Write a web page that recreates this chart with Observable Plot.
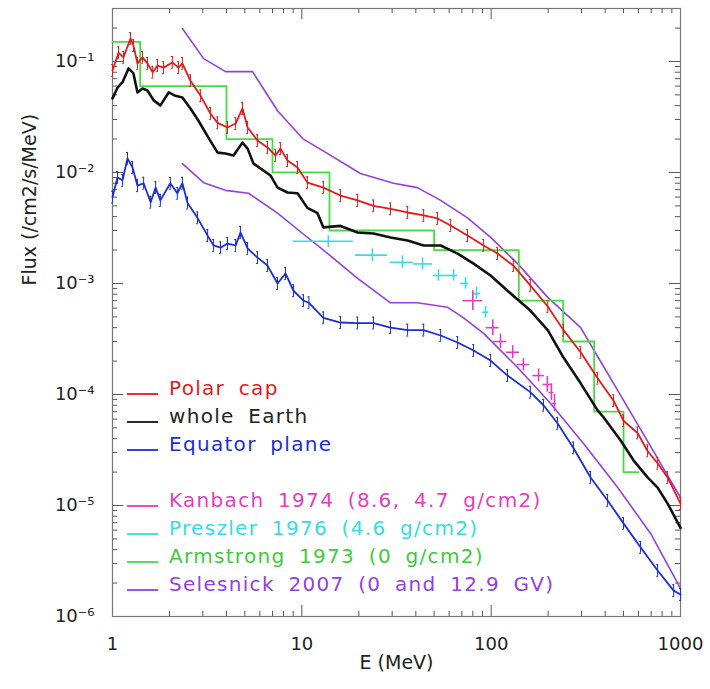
<!DOCTYPE html>
<html><head><meta charset="utf-8">
<script src="https://cdn.jsdelivr.net/npm/d3@7"></script>
<script src="https://cdn.jsdelivr.net/npm/@observablehq/plot@0.6"></script>
<style>body{margin:0;background:#fff} svg{font-family:"DejaVu Sans",sans-serif}</style>
</head><body><div id="chart"></div><script>
// ---- data (E in MeV, flux in /cm2/s/MeV) ----
const polarE = [1.0,1.076,1.143,1.245,1.291,1.355,1.44,1.53,1.63,1.73,1.86,2.07,2.23,2.34,2.58,2.92,3.29,3.59,4.05,4.47,4.86,5.17,5.83,6.59,7.26,7.71,8.40,9.49,10.7,13.0,16.0,19.7,23.9,29.4,36.2,44.0,52.1,61.1,75.0,91.2,108,131,161,199,241,297,365,443,500,593,670,757,855,1000];
const polarF = [0.083,0.120,0.109,0.161,0.139,0.096,0.109,0.096,0.080,0.092,0.088,0.098,0.088,0.096,0.067,0.049,0.034,0.028,0.0254,0.0276,0.0377,0.0254,0.0194,0.0168,0.0142,0.0164,0.0128,0.0111,0.0081,0.0073,0.0062,0.0056,0.0050,0.0047,0.00436,0.0041,0.00385,0.00333,0.0027,0.0022,0.00186,0.00145,9.6e-4,6.2e-4,3.8e-4,2.4e-4,1.4e-4,8.8e-5,5.8e-5,4.5e-5,3.1e-5,2.4e-5,1.79e-5,1.04e-5];

const earthE = [1.0,1.063,1.13,1.215,1.29,1.355,1.44,1.53,1.65,1.79,1.98,2.15,2.34,2.58,2.84,3.21,3.59,3.95,4.36,4.86,5.17,5.56,6.28,6.83,7.44,8.40,9.49,10.7,12.1,13.0,16.0,19.7,23.9,29.4,36.2,44.0,54.1,66.5,80.7,99.3,122,161,199,241,297,365,393,483,566,670,757,855,1000];
const earthF = [0.0465,0.058,0.065,0.0865,0.078,0.0526,0.057,0.0548,0.0446,0.0402,0.0526,0.049,0.0474,0.0377,0.0294,0.0206,0.0151,0.0148,0.0142,0.0186,0.0164,0.0120,0.0104,0.0094,0.0073,0.0066,0.0065,0.0048,0.0043,0.0032,0.0033,0.00288,0.00282,0.0026,0.00244,0.0022,0.0022,0.00186,0.00151,0.00118,8.6e-4,5.7e-4,3.8e-4,2.15e-4,1.26e-4,7.2e-5,6.2e-5,3.85e-5,2.54e-5,1.79e-5,1.45e-5,1.04e-5,6.3e-6];

const equatorE = [1.0,1.063,1.13,1.20,1.276,1.355,1.46,1.59,1.69,1.79,2.02,2.20,2.34,2.49,2.81,3.18,3.42,3.72,4.05,4.47,4.74,5.17,5.83,6.59,7.44,8.20,9.04,10.2,10.9,13.0,16.0,19.7,23.9,29.4,36.2,44.0,54.1,66.5,80.7,99.3,122,161,189,224,272,335,412,500,615,757,920,1000];
const equatorF = [0.0060,0.0090,0.0085,0.0134,0.0111,0.0076,0.0080,0.0054,0.0073,0.0056,0.0080,0.0065,0.0080,0.0053,0.0039,0.0027,0.0022,0.0021,0.00229,0.0022,0.00288,0.00207,0.00171,0.00145,0.0010,0.00123,8.6e-4,7.0e-4,6.7e-4,4.9e-4,4.45e-4,4.4e-4,4.4e-4,4.0e-4,3.8e-4,3.8e-4,3.4e-4,2.94e-4,2.49e-4,2.02e-4,1.48e-4,1.05e-4,8.0e-5,5.5e-5,3.3e-5,1.79e-5,1.11e-5,6.9e-6,4.2e-6,2.6e-6,1.71e-6,1.58e-6];

const kanbachE   = [80, 102, 112, 130, 148, 178, 198, 208, 216];
const kanbachELo = [71, 94, 103, 120, 137, 166, 188, 202, 211];
const kanbachEHi = [90, 110, 121, 141, 160, 191, 208, 214, 221];
const kanbachF   = [7.0e-4, 4.0e-4, 3.0e-4, 2.4e-4, 1.86e-4, 1.48e-4, 1.23e-4, 1.04e-4, 8.3e-5];
const kanbachFLo = [5.7e-4, 3.4e-4, 2.6e-4, 2.1e-4, 1.63e-4, 1.3e-4, 1.05e-4, 8.8e-5, 7.0e-5];
const kanbachFHi = [8.6e-4, 4.7e-4, 3.5e-4, 2.75e-4, 2.1e-4, 1.7e-4, 1.45e-4, 1.25e-4, 1.0e-4];

const preszlerE   = [13.8, 23.6, 34, 43.4, 52.7, 63.3, 73.2, 83.7, 93.4];
const preszlerELo = [9.0, 19.2, 29.4, 38.9, 49.6, 58.8, 69, 80, 90];
const preszlerEHi = [18.7, 28.3, 38.8, 49.0, 58.8, 66.5, 76, 88, 97];
const preszlerF   = [2.4e-3, 1.8e-3, 1.55e-3, 1.5e-3, 1.18e-3, 1.18e-3, 1.0e-3, 8.1e-4, 5.5e-4];
const preszlerFLo = [2.1e-3, 1.58e-3, 1.37e-3, 1.33e-3, 1.05e-3, 1.05e-3, 8.9e-4, 7.2e-4, 4.9e-4];
const preszlerFHi = [2.7e-3, 2.05e-3, 1.77e-3, 1.7e-3, 1.33e-3, 1.33e-3, 1.13e-3, 9.2e-4, 6.2e-4];

const armstrongE = [1, 1.4, 4, 7, 14, 50, 140, 240, 350, 500, 600];
const armstrongF = [0.15, 0.06, 0.02, 0.01, 0.003, 0.002, 7e-4, 3e-4, 7e-5, 2e-5, 2e-5];

const selesnick0E = [2.34,3.03,3.95,5.49,7.44,10.1,13.7,20.4,30.5,40.8,54.1,75.0,99.3,138,199,297,365,443,545,670,814,1000];
const selesnick0F = [0.198,0.106,0.081,0.081,0.036,0.0202,0.0148,0.0098,0.0080,0.0073,0.0056,0.0039,0.0026,0.00151,7.5e-4,4.0e-4,2.2e-4,1.26e-4,6.9e-5,3.8e-5,2.15e-5,1.18e-5];
const selesnick13E = [2.34,3.03,3.95,5.23,7.44,10.1,13.7,19.7,29.4,40.8,58.9,71.5,91.2,138,206,308,466,695,1000];
const selesnick13F = [0.0120,0.0081,0.0069,0.0065,0.0043,0.00282,0.00186,0.00111,6.7e-4,6.7e-4,6.1e-4,4.9e-4,3.55e-4,1.75e-4,8.3e-5,3.6e-5,1.45e-5,5.6e-6,1.79e-6];

const xTickLabels = [1, 10, 100, 1000];
const yTickValues = [1e-6, 1e-5, 1e-4, 1e-3, 1e-2, 1e-1];
const yTickLabels = ["10⁻⁶", "10⁻⁵", "10⁻⁴", "10⁻³", "10⁻²", "10⁻¹"];

const legendLabels = ["Polar cap", "whole Earth", "Equator plane", "Kanbach 1974 (8.6, 4.7 g/cm2)", "Preszler 1976 (4.6 g/cm2)", "Armstrong 1973 (0 g/cm2)", "Selesnick 2007 (0 and 12.9 GV)"];
const legendRows = [0, 1, 2, 4, 5, 6, 7];

// ---- styles ----
const C = {red:"#e41a1a", black:"#111", blue:"#1c2ed6", magenta:"#e53dbd", cyan:"#33dde6", green:"#44dd44", purple:"#9440e0"};
const legendColors = [C.red, C.black, C.blue, C.magenta, C.cyan, C.green, C.purple];
const legendTextColors = [C.red, "#222", C.blue, C.magenta, C.cyan, "#3ccc3c", C.purple];

const W = 710, H = 689, mL = 112, mT = 8, mR = 30, mB = 73;
const fH = H - mT - mB, fW = W - mL - mR;
const errFactor = 1.13;

const zip = (E, F) => E.map((e, i) => ({E: e, F: F[i]}));
const polar = zip(polarE, polarF), earth = zip(earthE, earthF), equator = zip(equatorE, equatorF);
const kanbach = kanbachE.map((e, i) => ({E: e, F: kanbachF[i], E1: kanbachELo[i], E2: kanbachEHi[i], F1: kanbachFLo[i], F2: kanbachFHi[i]}));
const preszler = preszlerE.map((e, i) => ({E: e, F: preszlerF[i], E1: preszlerELo[i], E2: preszlerEHi[i], F1: preszlerFLo[i], F2: preszlerFHi[i]}));
const armstrong = zip(armstrongE, armstrongF);
const sel0 = zip(selesnick0E, selesnick0F), sel13 = zip(selesnick13E, selesnick13F);

const xMinor = [], yMinor = [];
for (const d of [1, 10, 100]) for (let k = 2; k <= 9; k++) xMinor.push(k * d);
for (const d of [1e-6, 1e-5, 1e-4, 1e-3, 1e-2, 1e-1]) for (let k = 2; k <= 9; k++) if (k * d < 0.3) yMinor.push(k * d);

const tickStroke = "#555";
const majLen = 11, minLen = 5;

const errBars = (data, color) => [
  Plot.ruleX(data, {x: "E", y1: d => d.F / errFactor, y2: d => d.F * errFactor, stroke: color, strokeWidth: 1}),
  Plot.ruleY(data, {y: d => d.F / errFactor, x1: d => d.E / 1.012, x2: d => d.E * 1.012, stroke: color, strokeWidth: 1}),
  Plot.ruleY(data, {y: d => d.F * errFactor, x1: d => d.E / 1.012, x2: d => d.E * 1.012, stroke: color, strokeWidth: 1})
];

const plot = Plot.plot({
  width: W, height: H, marginLeft: mL, marginTop: mT, marginRight: mR, marginBottom: mB,
  style: {fontFamily: "DejaVu Sans", background: "white"},
  x: {type: "log", domain: [1, 1000]},
  y: {type: "log", domain: [1e-6, 0.3]},
  marks: [
    Plot.axisX(xTickLabels, {anchor: "bottom", tickSize: 0, tickPadding: 21, tickFormat: d => String(d), fontSize: 18, fill: "#222", label: null, style: {letterSpacing: "1.5px"}}),
    Plot.axisY(yTickValues, {anchor: "left", tickSize: 0, tickPadding: 18, tickFormat: d => yTickLabels[yTickValues.indexOf(d)], fontSize: 18, fill: "#222", label: null, style: {letterSpacing: "1px"}}),
    Plot.tickX(xTickLabels, {x: d => d, insetTop: fH - majLen, stroke: tickStroke}),
    Plot.tickX(xMinor, {x: d => d, insetTop: fH - minLen, stroke: tickStroke}),
    Plot.tickX(xTickLabels, {x: d => d, insetBottom: fH - majLen, stroke: tickStroke}),
    Plot.tickX(xMinor, {x: d => d, insetBottom: fH - minLen, stroke: tickStroke}),
    Plot.tickY(yTickValues, {y: d => d, insetRight: fW - majLen, stroke: tickStroke}),
    Plot.tickY(yMinor, {y: d => d, insetRight: fW - minLen, stroke: tickStroke}),
    Plot.tickY(yTickValues, {y: d => d, insetLeft: fW - majLen, stroke: tickStroke}),
    Plot.tickY(yMinor, {y: d => d, insetLeft: fW - minLen, stroke: tickStroke}),
    Plot.frame({stroke: "#777", strokeWidth: 1.2}),
    Plot.line(sel0, {x: "E", y: "F", stroke: C.purple, strokeWidth: 1.6}),
    Plot.line(sel13, {x: "E", y: "F", stroke: C.purple, strokeWidth: 1.6}),
    Plot.line(armstrong, {x: "E", y: "F", curve: "step-after", stroke: C.green, strokeWidth: 1.8}),
    Plot.ruleY(preszler, {y: "F", x1: "E1", x2: "E2", stroke: C.cyan, strokeWidth: 1.6}),
    Plot.ruleX(preszler, {x: "E", y1: "F1", y2: "F2", stroke: C.cyan, strokeWidth: 1.6}),
    Plot.ruleY(kanbach, {y: "F", x1: "E1", x2: "E2", stroke: C.magenta, strokeWidth: 1.6}),
    Plot.ruleX(kanbach, {x: "E", y1: "F1", y2: "F2", stroke: C.magenta, strokeWidth: 1.6}),
    ...errBars(equator, C.blue),
    Plot.line(equator, {x: "E", y: "F", stroke: C.blue, strokeWidth: 1.8}),
    ...errBars(polar, C.red),
    Plot.line(polar, {x: "E", y: "F", stroke: C.red, strokeWidth: 1.8}),
    Plot.line(earth, {x: "E", y: "F", stroke: C.black, strokeWidth: 2.6}),
    Plot.text(["E (MeV)"], {frameAnchor: "bottom", dy: 52, fontSize: 19, fill: "#222", style: {letterSpacing: "1.5px"}}),
    Plot.text(["Flux (/cm2/s/MeV)"], {frameAnchor: "left", dx: -83, dy: -27, rotate: -90, fontSize: 19, fill: "#222", style: {letterSpacing: "2.6px"}})
  ]
});

// legend inside the frame, lower left
const svg = d3.select(plot);
const lg = svg.append("g").attr("transform", `translate(${mL},${mT})`)
  .attr("text-anchor", "start")
  .style("font-family", "DejaVu Sans").style("font-size", "20px")
  .style("letter-spacing", "1.3px").style("word-spacing", "6px");
legendLabels.forEach((lab, i) => {
  const cy = 380 + 28 * legendRows[i];
  lg.append("line").attr("x1", 15).attr("x2", 46).attr("y1", cy + 6).attr("y2", cy + 6)
    .attr("stroke", legendColors[i]).attr("stroke-width", 1.8);
  lg.append("text").attr("x", 57).attr("y", cy).attr("dy", "0.35em")
    .attr("text-anchor", "start").attr("fill", legendTextColors[i]).text(lab);
});

document.getElementById("chart").appendChild(plot);
</script></body></html>
